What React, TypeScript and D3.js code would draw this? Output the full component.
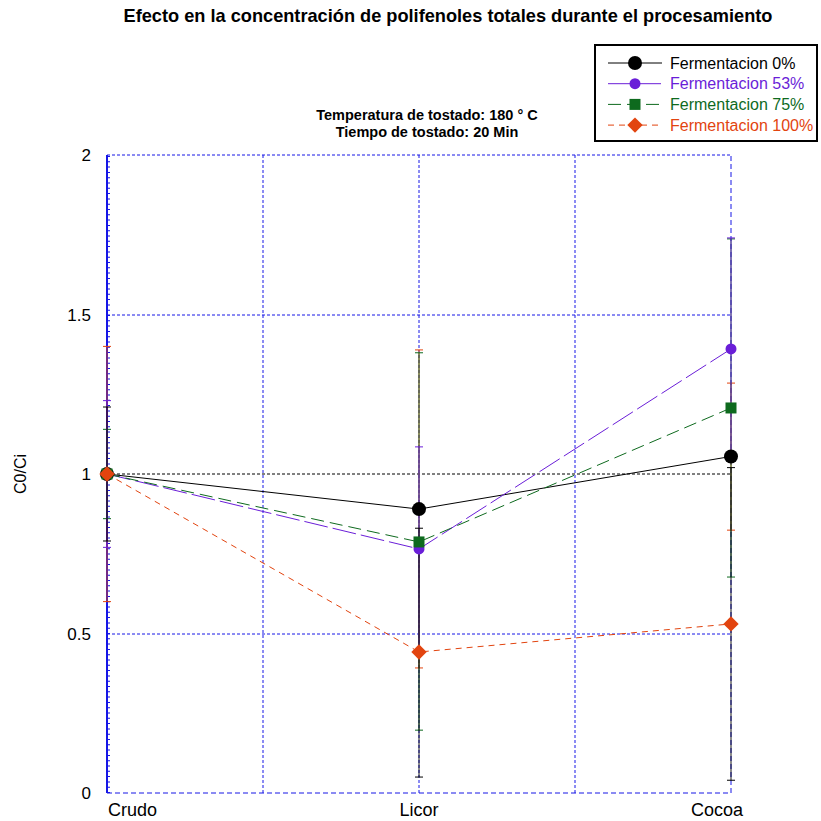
import React from "react";
import * as d3 from "d3";

// Processing stages on the x axis
const stages = ["Crudo", "Licor", "Cocoa"];
const yTicks = [0, 0.5, 1, 1.5, 2];
const xGrid = [0.5, 1, 1.5, 2];

// C0/Ci per fermentation level
const ferm0 = [1.0, 0.89, 1.055];
const ferm53 = [1.0, 0.765, 1.392];
const ferm75 = [1.0, 0.787, 1.207];
const ferm100 = [1.0, 0.442, 0.53];

// Error bar limits [low, high] per stage
const err0 = [[0.79, 1.21], [0.05, 0.83], [0.04, 1.02]];
const err53 = [[0.77, 1.23], [0.445, 1.085], [1.04, 1.74]];
const err75 = [[0.86, 1.14], [0.197, 1.38], [0.677, 1.737]];
const err100 = [[0.6, 1.4], [0.392, 1.389], [0.824, 1.285]];

type Series = {
  name: string;
  values: number[];
  errs: number[][];
  color: string;
  dash: string;
  marker: "circle" | "smallCircle" | "square" | "diamond";
};

const series: Series[] = [
  { name: "Fermentacion 0%", values: ferm0, errs: err0, color: "#000000", dash: "", marker: "circle" },
  { name: "Fermentacion 53%", values: ferm53, errs: err53, color: "#6a1ed8", dash: "24,5", marker: "smallCircle" },
  { name: "Fermentacion 75%", values: ferm75, errs: err75, color: "#0e6a1e", dash: "13,6", marker: "square" },
  { name: "Fermentacion 100%", values: ferm100, errs: err100, color: "#e2440f", dash: "6,5", marker: "diamond" },
];
// error bars: coloured ones first, black on top
const errOrder = [3, 2, 1, 0];

const W = 821;
const H = 821;
const x = d3.scaleLinear().domain([0, 2]).range([107, 731]);
const y = d3.scaleLinear().domain([0, 2]).range([793, 155]);
const px = (v: number) => Math.round(v);
const BLUE = "#1616e6";
const FONT = "Arial, 'Liberation Sans', sans-serif";

function Marker({ kind, cx, cy, color }: { kind: Series["marker"]; cx: number; cy: number; color: string }) {
  if (kind === "circle") return <circle cx={cx} cy={cy} r={7} fill={color} />;
  if (kind === "smallCircle") return <circle cx={cx} cy={cy} r={5.5} fill={color} />;
  if (kind === "square") return <rect x={cx - 5.5} y={cy - 5.5} width={11} height={11} fill={color} />;
  const s = d3.symbol().type(d3.symbolDiamond2).size(150)();
  return <path d={s || ""} transform={`translate(${cx},${cy})`} fill={color} />;
}

export default function App() {
  const line = d3
    .line<number>()
    .x((_, i) => x(i))
    .y((v) => y(v));

  return (
    <svg
      width={W}
      height={H}
      style={{ position: "fixed", left: 0, top: 0, background: "#fff" }}
      fontFamily={FONT}
    >
      <rect width={W} height={H} fill="#fff" />
      <text x={448} y={22} textAnchor="middle" fontSize={18.2} fontWeight="bold">
        Efecto en la concentración de polifenoles totales durante el procesamiento
      </text>
      <text x={427} y={120} textAnchor="middle" fontSize={14.5} fontWeight="bold">
        Temperatura de tostado: 180 ° C
      </text>
      <text x={427} y={137} textAnchor="middle" fontSize={14.5} fontWeight="bold">
        Tiempo de tostado: 20 Min
      </text>

      {/* grid */}
      {yTicks.map((t) => (
        <line
          key={"h" + t}
          x1={x(0)}
          x2={x(2)}
          y1={px(y(t))}
          y2={px(y(t))}
          stroke={t === 1 ? "#000" : BLUE}
          strokeWidth={1}
          strokeDasharray={t === 0 ? "5,3" : "3,2"}
        />
      ))}
      {xGrid.map((t) => (
        <line
          key={"v" + t}
          x1={px(x(t))}
          x2={px(x(t))}
          y1={y(0)}
          y2={y(2)}
          stroke={BLUE}
          strokeWidth={1}
          strokeDasharray={t === 2 ? "5,3" : "3,2"}
        />
      ))}
      <line x1={x(0)} x2={x(0)} y1={y(0)} y2={y(2)} stroke={BLUE} strokeWidth={2} />
      <line x1={x(0) + 1.5} x2={x(0) + 1.5} y1={y(0)} y2={y(2)} stroke={BLUE} strokeWidth={3} strokeDasharray="1,4.3" />

      {/* error bars */}
      {errOrder.map((si) => {
        const s = series[si];
        return s.errs.map(([lo, hi], i) => (
          <g key={s.name + "e" + i} stroke={s.color} strokeWidth={1}>
            <line x1={x(i)} x2={x(i)} y1={y(lo)} y2={y(hi)} opacity={0.9} />
            <line x1={x(i) - 4} x2={x(i) + 4} y1={y(lo)} y2={y(lo)} />
            <line x1={x(i) - 4} x2={x(i) + 4} y1={y(hi)} y2={y(hi)} />
          </g>
        ));
      })}

      {/* series lines */}
      {series.map((s) => (
        <path
          key={s.name + "l"}
          d={line(s.values) || ""}
          fill="none"
          stroke={s.color}
          strokeWidth={1}
          strokeDasharray={s.dash || undefined}
        />
      ))}
      {series.map((s) =>
        s.values.map((v, i) => (
          <Marker key={s.name + "m" + i} kind={s.marker} cx={x(i)} cy={y(v)} color={s.color} />
        ))
      )}

      {/* y axis */}
      {yTicks.map((t) => (
        <text key={"yt" + t} x={91} y={y(t) + 6} textAnchor="end" fontSize={17}>
          {t}
        </text>
      ))}
      <text transform={`translate(26,${y(1)}) rotate(-90)`} textAnchor="middle" fontSize={16}>
        C0/Ci
      </text>

      {/* x axis labels */}
      {stages.map((c, i) => (
        <text
          key={c}
          x={i === 0 ? x(0) + 1 : i === 2 ? x(2) - 14 : x(i)}
          y={816}
          textAnchor={i === 0 ? "start" : "middle"}
          fontSize={18}
        >
          {c}
        </text>
      ))}

      {/* legend */}
      <rect x={595} y={45} width={222} height={96} fill="#fff" stroke="#000" strokeWidth={2} />
      {series.map((s, k) => {
        const ly = 63 + k * 20.7;
        return (
          <g key={"lg" + k}>
            <line
              x1={608}
              x2={662}
              y1={ly}
              y2={ly}
              stroke={s.color}
              strokeWidth={1}
              strokeDasharray={s.dash || undefined}
            />
            <Marker kind={s.marker} cx={635} cy={ly} color={s.color} />
            <text x={670} y={ly + 5.5} fontSize={16} fill={s.color}>
              {s.name}
            </text>
          </g>
        );
      })}
    </svg>
  );
}
